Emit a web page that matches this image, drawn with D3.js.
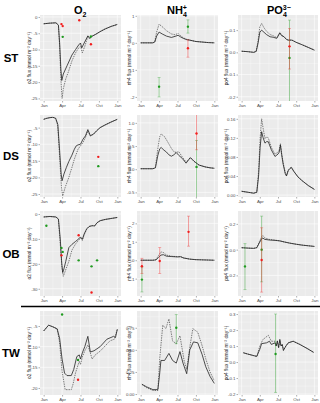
<!DOCTYPE html>
<html><head><meta charset="utf-8">
<script src="https://cdn.jsdelivr.net/npm/d3@7"></script>
<style>
body{margin:0;background:#fff}
svg{display:block;font-family:"Liberation Sans",Arial,sans-serif}
</style>
</head><body>
<script>
// x values are months since Jan 1 (0..12)
var monthTicks = [0, 3, 6, 9, 12]
var monthLabels = ["Jan", "Apr", "Jul", "Oct", "Jan"]
var rowNames = ["ST", "DS", "OB", "TW"]
var yTitles = ["o2 flux (mmol m\u207B\u00B2 day\u207B\u00B9)", "nh4 flux (mmol m\u207B\u00B2 day\u207B\u00B9)", "po4 flux (mmol m\u207B\u00B2 day\u207B\u00B9)"]

// ---- ST ----
var stO2Solid = [[0,-2.1],[1,-1.9],[2,-1.8],[2.4,-2.5],[2.6,-8],[2.8,-16],[2.95,-19.5],[3.2,-17.5],[3.8,-15],[4.6,-11.7],[5.2,-10],[5.7,-8.6],[6.0,-8],[6.2,-9.5],[6.6,-8],[7.2,-5.8],[7.5,-6.5],[7.8,-6],[8.5,-5.3],[9.2,-4.5],[10,-3.7],[11,-2.9],[12,-2.3]]
var stO2Dash = [[0,-2.1],[1,-1.9],[2,-1.8],[2.4,-2.5],[2.6,-9],[2.8,-19],[3.0,-25],[3.2,-22],[3.6,-19],[4,-17],[4.6,-13.5],[5.2,-11],[5.7,-9.5],[6.0,-9],[6.3,-11],[6.7,-9],[7.2,-6],[7.5,-6.8],[7.8,-6],[8.5,-5.3],[9.2,-4.5],[10,-3.7],[11,-2.9],[12,-2.3]]
var stO2Green = [[3.1,-6.1],[7.7,-6]]
var stO2Red = [[2.9,-2.2],[3.1,-2.8],[5.8,-1],[7.7,-8.4]]
var stO2Ticks = [0,-5,-10,-15,-20,-25]

var stNh4Solid = [[0,0],[1,0],[2,0],[2.3,0.03],[2.6,0.25],[3.0,0.4],[3.5,0.33],[4.2,0.25],[5.0,0.2],[5.6,0.24],[6.1,0.28],[6.5,0.22],[7.0,0.16],[7.5,0.12],[8,0.1],[9,0.05],[10,0.03],[11,0.01],[12,0]]
var stNh4Dash = [[0,0],[1,0],[2,0],[2.3,0.05],[2.6,0.4],[3.0,0.69],[3.5,0.6],[4.2,0.45],[5.0,0.33],[5.6,0.3],[6.1,0.35],[6.5,0.26],[7.0,0.18],[7.5,0.13],[8,0.1],[9,0.05],[10,0.03],[11,0.01],[12,0]]
var stNh4Green = [[3.0,-1.62,-2.0,-1.28],[7.7,0.6,0.36,0.85]]
var stNh4Red = [[7.7,-0.2,-0.53,0.11]]
var stNh4Ticks = [1,0,-1,-2]

var stPo4Solid = [[0,0.005],[1,0.003],[2,0.0],[2.4,0.004],[2.7,0.04],[3.0,0.09],[3.3,0.1],[3.7,0.09],[4.1,0.08],[4.7,0.07],[5.2,0.068],[5.8,0.063],[6.3,0.087],[6.6,0.075],[7.0,0.07],[7.4,0.058],[7.7,0.055],[8.3,0.055],[9,0.045],[9.9,0.035],[11,0.022],[12,0.01]]
var stPo4Dash = [[0,0.005],[1,0.003],[2,0.0],[2.4,0.005],[2.7,0.05],[3.0,0.115],[3.3,0.13],[3.7,0.11],[4.1,0.095],[4.7,0.08],[5.2,0.075],[5.8,0.066],[6.3,0.09],[6.6,0.078],[7.0,0.07],[7.4,0.058],[7.7,0.055],[8.3,0.055],[9,0.045],[9.9,0.035],[11,0.022],[12,0.01]]
var stPo4Green = [[7.9,-0.025,-0.23,0.145]]
var stPo4Red = [[7.9,0.027,-0.075,0.107]]
var stPo4Ticks = [0.1,0,-0.1,-0.2]

// ---- DS ----
var dsO2Solid = [[0,-2.5],[0.5,-2.2],[1,-2],[1.5,-1.9],[1.95,-2.2],[2.3,-4],[2.6,-12],[2.85,-19],[3.0,-21],[3.3,-19],[3.7,-17],[4.1,-15.2],[4.6,-13.3],[5.0,-11.5],[5.3,-10.5],[5.6,-10.2],[6.0,-10],[6.4,-8.5],[6.8,-7.5],[7.2,-5.6],[7.6,-7.4],[8.1,-7],[8.6,-6],[9.2,-5],[10,-4.2],[11,-3.3],[12,-2.5]]
var dsO2Dash = [[0,-2.5],[0.5,-2.2],[1,-2],[1.5,-1.9],[1.95,-2.2],[2.3,-4.5],[2.6,-14],[2.9,-23],[3.1,-25.6],[3.5,-23],[4.1,-20],[4.6,-17],[5.0,-14.5],[5.3,-13],[5.6,-11.5],[6.0,-10.5],[6.4,-9.5],[6.8,-8],[7.2,-6],[7.6,-7.6],[8.1,-7],[8.6,-6],[9.2,-5],[10,-4.2],[11,-3.3],[12,-2.5]]
var dsO2Green = [[8.9,-16.6]]
var dsO2Red = [[8.9,-13.8]]
var dsO2Ticks = [-5,-10,-15,-20,-25]

var dsNh4Solid = [[0,0.01],[1,0.01],[2,0.01],[2.4,0.03],[2.8,0.3],[3.1,0.44],[3.35,0.47],[3.7,0.42],[4.2,0.37],[4.6,0.31],[5.0,0.28],[5.4,0.31],[5.8,0.36],[6.2,0.3],[6.8,0.23],[7.4,0.13],[7.8,0.2],[8.1,0.25],[8.7,0.17],[9.5,0.09],[10.5,0.05],[11.3,0.03],[12,0.02]]
var dsNh4Dash = [[0,0.01],[1,0.01],[2,0.01],[2.4,0.04],[2.8,0.45],[3.1,0.7],[3.35,0.76],[3.9,0.7],[4.4,0.59],[5.0,0.45],[5.4,0.38],[5.8,0.36],[6.2,0.38],[6.8,0.26],[7.4,0.15],[7.8,0.21],[8.1,0.25],[8.7,0.17],[9.5,0.09],[10.5,0.05],[11.3,0.03],[12,0.02]]
var dsNh4Green = [[9.1,0.05,-0.65,0.62]]
var dsNh4Red = [[9.1,0.77,0.42,1.25]]
var dsNh4Ticks = [1,0.5,0,-0.5]

var dsPo4Solid = [[0,0.008],[1,0.006],[2,0.004],[2.5,0.006],[2.8,0.04],[3.05,0.1],[3.3,0.133],[3.55,0.12],[3.85,0.109],[4.1,0.112],[4.4,0.112],[4.9,0.095],[5.5,0.081],[6.0,0.086],[6.2,0.09],[6.4,0.105],[6.6,0.085],[6.85,0.065],[7.2,0.045],[7.4,0.04],[7.7,0.052],[8.2,0.058],[8.6,0.05],[9.3,0.038],[10,0.03],[11,0.02],[12,0.012]]
var dsPo4Dash = [[0,0.008],[1,0.006],[2,0.004],[2.5,0.006],[2.8,0.05],[3.05,0.12],[3.3,0.16],[3.55,0.14],[3.85,0.118],[4.1,0.122],[4.4,0.12],[4.9,0.1],[5.5,0.086],[6.0,0.09],[6.2,0.095],[6.4,0.108],[6.6,0.088],[6.85,0.068],[7.2,0.047],[7.4,0.041],[7.7,0.053],[8.2,0.059],[8.6,0.05],[9.3,0.038],[10,0.03],[11,0.02],[12,0.012]]
var dsPo4Green = []
var dsPo4Red = []
var dsPo4Ticks = [0.16,0.12,0.08,0.04,0]

// ---- OB ----
var obO2Solid = [[0,-1.2],[1,-1],[2,-1.2],[2.4,-2],[2.7,-10],[2.95,-20],[3.1,-23.5],[3.3,-22],[3.6,-19],[4.1,-13.5],[4.6,-12.2],[5.2,-11],[5.7,-10],[6.0,-9.2],[6.3,-10.2],[6.6,-8],[7.0,-6],[7.4,-5],[7.9,-4.7],[8.3,-4.8],[8.7,-3.5],[9.2,-2.7],[10,-2.2],[11,-1.8],[12,-1.4]]
var obO2Dash = [[0,-1.2],[1,-1],[2,-1.2],[2.4,-2.2],[2.7,-12],[3.0,-22],[3.2,-25],[3.5,-23],[4.1,-19],[4.6,-14.5],[5.2,-12],[5.7,-10.5],[6.0,-9.6],[6.3,-10.6],[6.6,-8.3],[7.0,-6.2],[7.4,-5],[7.9,-4.7],[8.3,-4.8],[8.7,-3.5],[9.2,-2.7],[10,-2.2],[11,-1.8],[12,-1.4]]
var obO2Green = [[0.44,-4.7],[2.9,-13.6],[3.1,-15.2],[5.7,-18.6],[7.8,-21],[8.7,-18.6]]
var obO2Red = [[2.9,-16.6],[5.7,-8.5],[7.8,-31.5]]
var obO2Ticks = [0,-10,-20,-30]

var obNh4Solid = [[0,0],[1,0],[2,0],[2.5,0.02],[2.9,0.15],[3.3,0.28],[3.7,0.3],[4.2,0.22],[5,0.2],[6,0.18],[6.5,0.19],[7,0.12],[8,0.06],[9,0.03],[10,0.02],[11,0.01],[12,0]]
var obNh4Dash = [[0,0],[1,0],[2,0],[2.5,0.03],[2.9,0.25],[3.3,0.45],[3.7,0.42],[4.2,0.28],[5,0.22],[6,0.19],[6.5,0.2],[7,0.13],[8,0.06],[9,0.03],[10,0.02],[11,0.01],[12,0]]
var obNh4Green = [[0.2,-1.05,-1.72,-0.36]]
var obNh4Red = [[0.2,-0.33,-0.72,0.1],[3.1,-0.04,-0.72,0.69],[7.8,1.54,0.76,2.39]]
var obNh4Ticks = [2,1,0,-1]

var obPo4Solid = [[0,0.015],[1,0.012],[2,0.01],[2.5,0.015],[2.9,0.05],[3.3,0.085],[3.5,0.09],[3.8,0.08],[4.5,0.075],[5.5,0.072],[6.3,0.068],[7,0.06],[8,0.05],[9,0.042],[10,0.035],[11,0.03],[12,0.025]]
var obPo4Dash = [[0,0.015],[1,0.012],[2,0.01],[2.5,0.016],[2.9,0.06],[3.3,0.1],[3.5,0.11],[3.8,0.092],[4.5,0.08],[5.5,0.074],[6.3,0.068],[7,0.06],[8,0.05],[9,0.042],[10,0.035],[11,0.03],[12,0.025]]
var obPo4Green = [[0.55,-0.13,-0.31,0.047],[3.3,0.0,-0.25,0.26]]
var obPo4Red = [[3.3,-0.08,-0.33,0.17]]
var obPo4Ticks = [0.2,0,-0.2]

// ---- TW ----
var twO2Solid = [[0,-6.2],[0.4,-5.5],[0.8,-4.8],[1.5,-5.2],[2.2,-5.7],[2.6,-8],[3.0,-13],[3.4,-16.4],[3.8,-17],[4.5,-17],[4.9,-15.5],[5.4,-12.4],[5.8,-12],[6.0,-13],[6.3,-11.5],[6.7,-10],[7.2,-7.5],[7.6,-11.3],[8.2,-11],[9.2,-10],[10.3,-8.2],[11.4,-7.5],[11.7,-7.8],[12,-5.8]]
var twO2Dash = [[0,-6.2],[0.4,-5.5],[0.8,-4.8],[1.5,-5.2],[2.2,-5.7],[2.6,-9],[3.0,-16],[3.5,-20.4],[4.5,-20.4],[4.8,-19],[5.2,-16.3],[5.8,-13.5],[6.0,-14.3],[6.3,-12.5],[6.7,-11],[7.2,-9.6],[7.9,-13],[8.4,-12],[9.2,-11.1],[10.8,-8.6],[11.5,-8.2],[12,-5.8]]
var twO2Green = [[3.0,-2.2],[5.6,-13.2]]
var twO2Red = [[5.6,-18]]
var twO2Ticks = [-5,-10,-15,-20]

var twNh4Solid = [[0.2,0.11],[1,0.08],[2,0.05],[2.8,0.05],[3.05,0.2],[3.3,0.38],[3.9,0.38],[4.6,0.46],[5.2,0.38],[5.8,0.35],[6.4,0.48],[6.9,0.35],[7.5,0.23],[8.0,0.5],[8.6,0.59],[9.3,0.58],[10,0.45],[10.6,0.31],[11.3,0.2],[12,0.12]]
var twNh4Dash = [[0.2,0.11],[1,0.07],[2,0.04],[2.8,0.04],[3.1,0.4],[3.6,0.78],[4.1,0.74],[4.6,0.85],[5.2,0.6],[5.8,0.57],[6.4,0.66],[7.1,0.37],[7.5,0.28],[8.0,0.53],[8.5,0.74],[9.3,0.7],[10,0.55],[10.6,0.4],[11.3,0.25],[12,0.15]]
var twNh4Green = [[5.8,0.75,0.57,0.9]]
var twNh4Red = []
var twNh4Ticks = [0.75,0.5,0.25,0]

var twPo4Solid = [[0.28,0.058],[1,0.05],[2,0.04],[2.5,0.035],[3.0,0.08],[3.3,0.115],[4.1,0.12],[4.6,0.13],[4.9,0.11],[5.5,0.12],[5.7,0.1],[5.9,0.13],[6.1,0.09],[6.3,0.14],[6.5,0.1],[6.7,0.11],[6.9,0.073],[7.3,0.1],[7.7,0.12],[8.5,0.13],[9.6,0.11],[10.8,0.085],[11.9,0.06]]
var twPo4Dash = [[0.28,0.058],[1,0.05],[2,0.04],[2.5,0.035],[3.0,0.1],[3.5,0.14],[4.4,0.167],[4.9,0.13],[5.5,0.13],[5.7,0.1],[5.9,0.135],[6.1,0.09],[6.3,0.14],[6.5,0.1],[6.7,0.11],[6.9,0.073],[7.3,0.1],[7.7,0.12],[8.5,0.13],[9.6,0.11],[10.8,0.085],[11.9,0.06]]
var twPo4Green = [[5.6,0.05,-0.19,0.3]]
var twPo4Red = []
var twPo4Ticks = [0.3,0.2,0.1,0,-0.1,-0.2]

// y ranges shown in each panel (row by row)
var yDomains = [
  [[-25.8,0.6],[-2.15,1.03],[-0.219,0.168]],
  [[-25.9,-1.2],[-0.6,1.17],[-0.004,0.168]],
  [[-32.9,1.2],[-1.94,2.67],[-0.36,0.30]],
  [[-21.7,-1.37],[-0.011,0.94],[-0.206,0.319]]
]

var loc = d3.formatLocale({decimal: ".", thousands: ",", grouping: [3], currency: ["", ""], minus: "-"})

var panels = [
  [stO2Solid, stO2Dash, stO2Green, stO2Red, stO2Ticks, "d"],
  [stNh4Solid, stNh4Dash, stNh4Green, stNh4Red, stNh4Ticks, "d"],
  [stPo4Solid, stPo4Dash, stPo4Green, stPo4Red, stPo4Ticks, ".1f"],
  [dsO2Solid, dsO2Dash, dsO2Green, dsO2Red, dsO2Ticks, "d"],
  [dsNh4Solid, dsNh4Dash, dsNh4Green, dsNh4Red, dsNh4Ticks, ".1f"],
  [dsPo4Solid, dsPo4Dash, dsPo4Green, dsPo4Red, dsPo4Ticks, ".2f"],
  [obO2Solid, obO2Dash, obO2Green, obO2Red, obO2Ticks, "d"],
  [obNh4Solid, obNh4Dash, obNh4Green, obNh4Red, obNh4Ticks, "d"],
  [obPo4Solid, obPo4Dash, obPo4Green, obPo4Red, obPo4Ticks, ".1f"],
  [twO2Solid, twO2Dash, twO2Green, twO2Red, twO2Ticks, "d"],
  [twNh4Solid, twNh4Dash, twNh4Green, twNh4Red, twNh4Ticks, ".2f"],
  [twPo4Solid, twPo4Dash, twPo4Green, twPo4Red, twPo4Ticks, ".1f"]
]

// panel boxes (pixels)
var colX = [[40,121],[137,218],[238,318]]
var rowY = [[15,101],[115,197],[211,296],[311,395]]
var titleX = [29, 129, 226]

var svg = d3.select("body").append("svg").attr("width", 320).attr("height", 403)

var GREEN = "#1f9a1f", RED = "#f21d1d"

panels.forEach(function(p, i) {
  var r = Math.floor(i / 3), c = i % 3
  var x0 = colX[c][0], x1 = colX[c][1], y0 = rowY[r][0], y1 = rowY[r][1]
  var x = d3.scaleLinear().domain([-0.6, 12.6]).range([x0, x1])
  var y = d3.scaleLinear().domain(yDomains[r][c]).range([y1, y0])
  var g = svg.append("g")

  g.append("rect").attr("x", x0).attr("y", y0).attr("width", x1 - x0).attr("height", y1 - y0).attr("fill", "#ebebeb")

  // minor grid
  var step = p[4][0] - p[4][1]
  var ymin = yDomains[r][c][0], ymax = yDomains[r][c][1]
  var minorY = []
  for (var v = p[4][0] + step / 2; v <= ymax; v += step) minorY.push(v)
  for (var v = p[4][0] - step / 2; v >= ymin; v -= step) minorY.push(v)
  g.selectAll(".mny").data(minorY).enter().append("line")
    .attr("x1", x0).attr("x2", x1).attr("y1", d => y(d)).attr("y2", d => y(d))
    .attr("stroke", "#fff").attr("stroke-width", 0.3)
  g.selectAll(".mnx").data([-1.5, 1.5, 4.5, 7.5, 10.5]).enter().append("line")
    .attr("y1", y0).attr("y2", y1).attr("x1", d => x(d)).attr("x2", d => x(d))
    .attr("stroke", "#fff").attr("stroke-width", 0.3)
  // major grid
  g.selectAll(".mjy").data(p[4]).enter().append("line")
    .attr("x1", x0).attr("x2", x1).attr("y1", d => y(d)).attr("y2", d => y(d))
    .attr("stroke", "#fff").attr("stroke-width", 0.6)
  g.selectAll(".mjx").data(monthTicks).enter().append("line")
    .attr("y1", y0).attr("y2", y1).attr("x1", d => x(d)).attr("x2", d => x(d))
    .attr("stroke", "#fff").attr("stroke-width", 0.6)

  var clipId = "clip" + i
  svg.append("clipPath").attr("id", clipId).append("rect")
    .attr("x", x0).attr("y", y0).attr("width", x1 - x0).attr("height", y1 - y0)
  var inner = g.append("g").attr("clip-path", "url(#" + clipId + ")")

  var line = d3.line().x(d => x(d[0])).y(d => y(d[1]))
  inner.append("path").datum(p[1]).attr("d", line).attr("fill", "none")
    .attr("stroke", "#444").attr("stroke-width", 0.7).attr("stroke-dasharray", "1.4,1")
  inner.append("path").datum(p[0]).attr("d", line).attr("fill", "none")
    .attr("stroke", "#222").attr("stroke-width", 0.8)

  // observations: green then red
  ;[[p[2], GREEN], [p[3], RED]].forEach(function(s) {
    var bars = s[0].filter(d => d.length > 2)
    inner.selectAll(null).data(bars).enter().append("line")
      .attr("x1", d => x(d[0])).attr("x2", d => x(d[0]))
      .attr("y1", d => y(d[2])).attr("y2", d => y(d[3]))
      .attr("stroke", s[1]).attr("stroke-opacity", 0.4).attr("stroke-width", 1)
    inner.selectAll(null).data(bars.flatMap(d => [[d[0], d[2]], [d[0], d[3]]])).enter().append("line")
      .attr("x1", d => x(d[0]) - 1.5).attr("x2", d => x(d[0]) + 1.5)
      .attr("y1", d => y(d[1])).attr("y2", d => y(d[1]))
      .attr("stroke", s[1]).attr("stroke-opacity", 0.4).attr("stroke-width", 0.8)
    inner.selectAll(null).data(s[0]).enter().append("circle")
      .attr("cx", d => x(d[0])).attr("cy", d => y(d[1])).attr("r", 1.2)
      .attr("fill", s[1])
  })

  // axes
  var ay = g.append("g").attr("transform", "translate(" + x0 + ",0)")
    .call(d3.axisLeft(y).tickValues(p[4]).tickSize(1.5).tickPadding(1).tickFormat(loc.format(p[5])))
  var ax = g.append("g").attr("transform", "translate(0," + y1 + ")")
    .call(d3.axisBottom(x).tickValues(monthTicks).tickSize(1.5).tickPadding(1).tickFormat((d, k) => monthLabels[k]))
  ;[ay, ax].forEach(function(a) {
    a.select(".domain").remove()
    a.selectAll(".tick line").attr("stroke", "#333").attr("stroke-width", 0.4)
    a.selectAll(".tick text").attr("fill", "#4d4d4d").style("font-size", "4.4px").style("font-family", "Liberation Sans, Arial, sans-serif")
  })

  svg.append("text")
    .attr("transform", "translate(" + titleX[c] + "," + ((y0 + y1) / 2) + ") rotate(-90)")
    .attr("text-anchor", "middle").attr("dy", "0.35em")
    .style("font-size", "4.8px").attr("fill", "#222")
    .text(yTitles[c])
})

// row labels
svg.selectAll(".rowlab").data(rowNames).enter().append("text")
  .attr("x", 11).attr("y", (d, i) => (rowY[i][0] + rowY[i][1]) / 2 + 4.2)
  .attr("text-anchor", "middle").style("font-size", "11.5px").style("font-weight", "bold")
  .text(d => d)

// column headers
var h1 = svg.append("text").attr("x", 74).attr("y", 14).style("font-size", "11px").style("font-weight", "bold")
h1.append("tspan").text("O")
h1.append("tspan").attr("dy", 2.5).style("font-size", "7px").text("2")

var h2 = svg.append("text").attr("x", 167).attr("y", 14).style("font-size", "11px").style("font-weight", "bold")
h2.append("tspan").text("NH")
h2.append("tspan").attr("dy", 2.5).style("font-size", "7px").text("4")
h2.append("tspan").attr("dx", -4).attr("dy", -7).style("font-size", "7px").text("+")

var h3 = svg.append("text").attr("x", 267).attr("y", 14).style("font-size", "11px").style("font-weight", "bold")
h3.append("tspan").text("PO")
h3.append("tspan").attr("dy", 2.5).style("font-size", "7px").text("4")
h3.append("tspan").attr("dx", -4).attr("dy", -7).style("font-size", "7px").text("3\u2212")

// separator above TW row
svg.append("line").attr("x1", 21).attr("x2", 320).attr("y1", 306.5).attr("y2", 306.5)
  .attr("stroke", "#000").attr("stroke-width", 1.6)
</script>
</body></html>
